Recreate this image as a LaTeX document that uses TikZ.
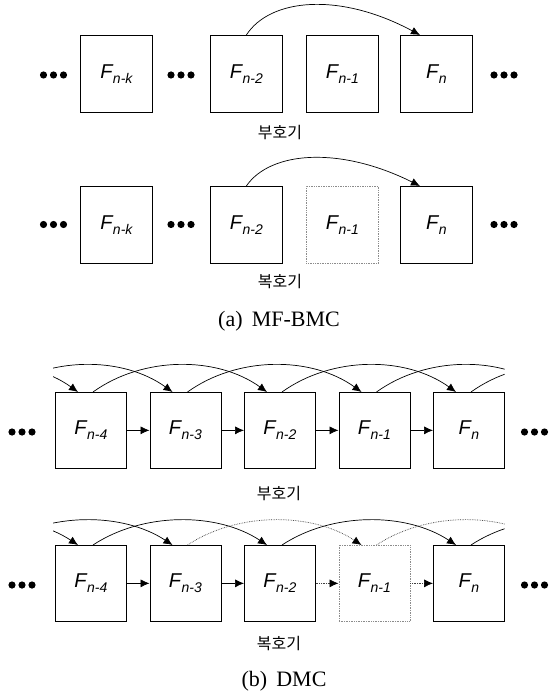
\documentclass[tikz,border=0pt]{standalone}
\usepackage{fontspec}
\setmainfont{Liberation Serif}
\newfontfamily\fsans{Liberation Sans}
\newfontfamily\krfont{Noto Sans CJK KR}
\usetikzlibrary{arrows.meta}
\newcommand\Fnm[1]{{\fsans\itshape\fontsize{20}{20}\selectfont F\kern0.5pt\raisebox{-5pt}{\fontsize{14}{14}\selectfont #1}}}
\newcommand\mydots[2]{\foreach \k in {-1,0,1} {\fill ({#1+10*(\k)},#2) circle (3.6pt);}}
\begin{document}
\begin{tikzpicture}[x=1pt,y=-1pt,
  frame/.style={draw, line width=0.7pt, minimum width=72pt, minimum height=77pt, inner sep=0pt, anchor=north west},
  frameb/.style={frame, minimum width=71pt, minimum height=76pt},
  lost/.style={draw=black!45, densely dotted},
  arc/.style={line width=0.7pt, -{Latex[length=9pt,width=8pt,color=black]}},
  dotarc/.style={arc, densely dotted, draw=black!75},
  lbl/.style={font=\krfont\fontsize{16}{16}\selectfont},
  captxt/.style={font=\fontsize{22}{22}\selectfont}
]
\fill[white] (0,0) rectangle (553,700);
\useasboundingbox (0,0) rectangle (553,700);

% ---------- panel (a), encoder ----------
\node[frame] (a1) at (80,35) {\Fnm{n-k}};
\node[frame] (a2) at (210,35) {\Fnm{n-2}};
\node[frame] (a3) at (306,35) {\Fnm{n-1}};
\node[frame] (a4) at (400,35) {\Fnm{n}};
\coordinate (a4e) at ([xshift=20pt]a4.north west);
\draw[arc] (a2.north) .. controls +(24,-37) and +(-80,-43) .. (a4e);
\mydots{53.5}{75}
\mydots{181}{75}
\mydots{504}{75}
\node[lbl] (la1) at (280,133) {부호기};

% ---------- panel (a), decoder ----------
\node[frame] (c1) at (80,186) {\Fnm{n-k}};
\node[frame] (c2) at (210,186) {\Fnm{n-2}};
\node[frame,lost] (c3) at (306,186) {\Fnm{n-1}};
\node[frame] (c4) at (400,186) {\Fnm{n}};
\coordinate (c4e) at ([xshift=20pt]c4.north west);
\draw[arc] (c2.north) .. controls +(24,-35) and +(-80,-40) .. (c4e);
\mydots{53.5}{224.5}
\mydots{181}{224.5}
\mydots{504}{224.5}
\node[lbl] (la2) at (280,282) {복호기};
\node[captxt] (capa) at (279,321) {(a)\, MF-BMC};

% ---------- panel (b), encoder ----------
\node[frameb] (b1) at (55,392) {\Fnm{n-4}};
\node[frameb] (b2) at (149.5,392) {\Fnm{n-3}};
\node[frameb] (b3) at (244,392) {\Fnm{n-2}};
\node[frameb] (b4) at (338.5,392) {\Fnm{n-1}};
\node[frameb] (b5) at (433,392) {\Fnm{n}};
\foreach \k in {1,...,9} {
  \coordinate (bs\k) at ({55+94.5*(\k-3)+38},392);
  \coordinate (be\k) at ({55+94.5*(\k-3)+23},392);
  \coordinate (ds\k) at ({55+94.5*(\k-3)+38},545);
  \coordinate (de\k) at ({55+94.5*(\k-3)+23},545);
}
\begin{scope}
  \clip (53,330) rectangle (504.5,393);
  \foreach \i/\j in {1/3,2/4,3/5,4/6,5/7,6/8,7/9}
    \draw[arc] (bs\i) .. controls +(50,-36) and +(-50,-36) .. (be\j);
\end{scope}
\draw[arc] (b1.east) -- (b2.west);
\draw[arc] (b2.east) -- (b3.west);
\draw[arc] (b3.east) -- (b4.west);
\draw[arc] (b4.east) -- (b5.west);
\mydots{22}{432}
\mydots{534.5}{432}
\node[lbl] (lb1) at (279,494) {부호기};

% ---------- panel (b), decoder ----------
\node[frameb] (d1) at (55,545) {\Fnm{n-4}};
\node[frameb] (d2) at (149.5,545) {\Fnm{n-3}};
\node[frameb] (d3) at (244,545) {\Fnm{n-2}};
\node[frameb,lost] (d4) at (338.5,545) {\Fnm{n-1}};
\node[frameb] (d5) at (433,545) {\Fnm{n}};
\begin{scope}
  \clip (53,490) rectangle (504.5,546);
  \foreach \i/\j in {1/3,2/4,3/5,5/7,7/9}
    \draw[arc] (ds\i) .. controls +(50,-33) and +(-50,-33) .. (de\j);
  \foreach \i/\j in {4/6,6/8}
    \draw[dotarc] (ds\i) .. controls +(50,-33) and +(-50,-33) .. (de\j);
\end{scope}
\draw[arc] (d1.east) -- (d2.west);
\draw[arc] (d2.east) -- (d3.west);
\draw[dotarc] (d3.east) -- (d4.west);
\draw[dotarc] (d4.east) -- (d5.west);
\mydots{22}{585}
\mydots{534.5}{585}
\node[lbl] (lb2) at (279,644) {복호기};
\node[captxt] (capb) at (284,681) {(b)\, DMC};
\end{tikzpicture}
\end{document}
